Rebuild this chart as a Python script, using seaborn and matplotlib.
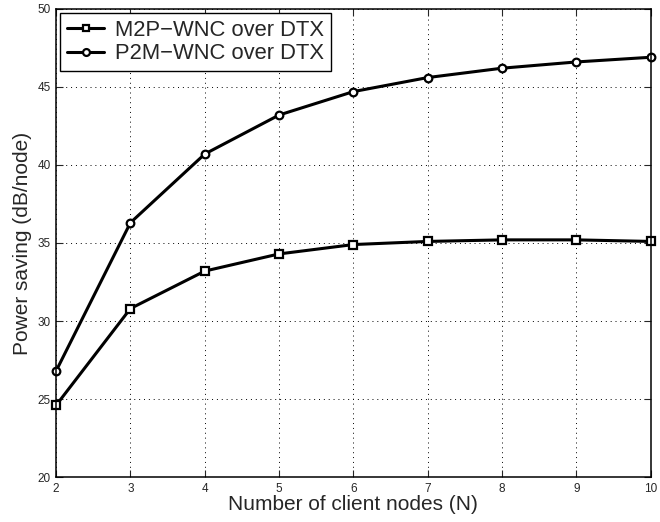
import matplotlib
matplotlib.use("Agg")
import matplotlib.pyplot as plt
import seaborn as sns
import pandas as pd

# Power saving versus number of client nodes
nodes = [2, 3, 4, 5, 6, 7, 8, 9, 10]
m2p_wnc = [24.6, 30.8, 33.2, 34.3, 34.9, 35.1, 35.2, 35.2, 35.1]
p2m_wnc = [26.8, 36.3, 40.7, 43.2, 44.7, 45.6, 46.2, 46.6, 46.9]
series_names = ["M2P\u2212WNC over DTX", "P2M\u2212WNC over DTX"]
y_ticks = [20, 25, 30, 35, 40, 45, 50]

df = pd.DataFrame({
    "N": nodes * 2,
    "saving": m2p_wnc + p2m_wnc,
    "series": [series_names[0]] * len(nodes) + [series_names[1]] * len(nodes),
})

sns.set_style("ticks")
plt.rcParams["font.family"] = ["Liberation Sans", "DejaVu Sans"]

fig = plt.figure(figsize=(6.6, 5.22), dpi=100)
ax = fig.add_axes([0.085, 0.086, 0.901, 0.897])

sns.lineplot(
    data=df, x="N", y="saving", hue="series", style="series",
    palette=["black", "black"], markers=["s", "o"], dashes=False,
    linewidth=2.2, markersize=5.5, markerfacecolor="white",
    markeredgecolor="black", markeredgewidth=1.6, ax=ax, clip_on=False,
)

ax.set_xlim(2, 10)
ax.set_ylim(20, 50)
ax.set_xticks(nodes)
ax.set_yticks(y_ticks)
ax.tick_params(direction="in", top=True, right=True, labelsize=8.5, length=5,
               width=0.8, pad=4)
ax.grid(True, linestyle=(0, (1, 4)), color="black", linewidth=0.7)
for s in ax.spines.values():
    s.set_linewidth(1.1)
    s.set_color("black")

ax.set_xlabel("Number of client nodes (N)", fontsize=15, labelpad=0)
ax.set_ylabel("Power saving (dB/node)", fontsize=15, labelpad=4)

leg = ax.legend(loc="upper left", fontsize=15.8, frameon=True, fancybox=False,
                edgecolor="black", borderaxespad=0.2, handlelength=1.7,
                borderpad=0.3, labelspacing=0.12, handletextpad=0.5,
                markerscale=0.9)
leg.get_frame().set_linewidth(1.0)
leg.get_frame().set_alpha(1)

fig.savefig("out.png", dpi=100, facecolor="white")
